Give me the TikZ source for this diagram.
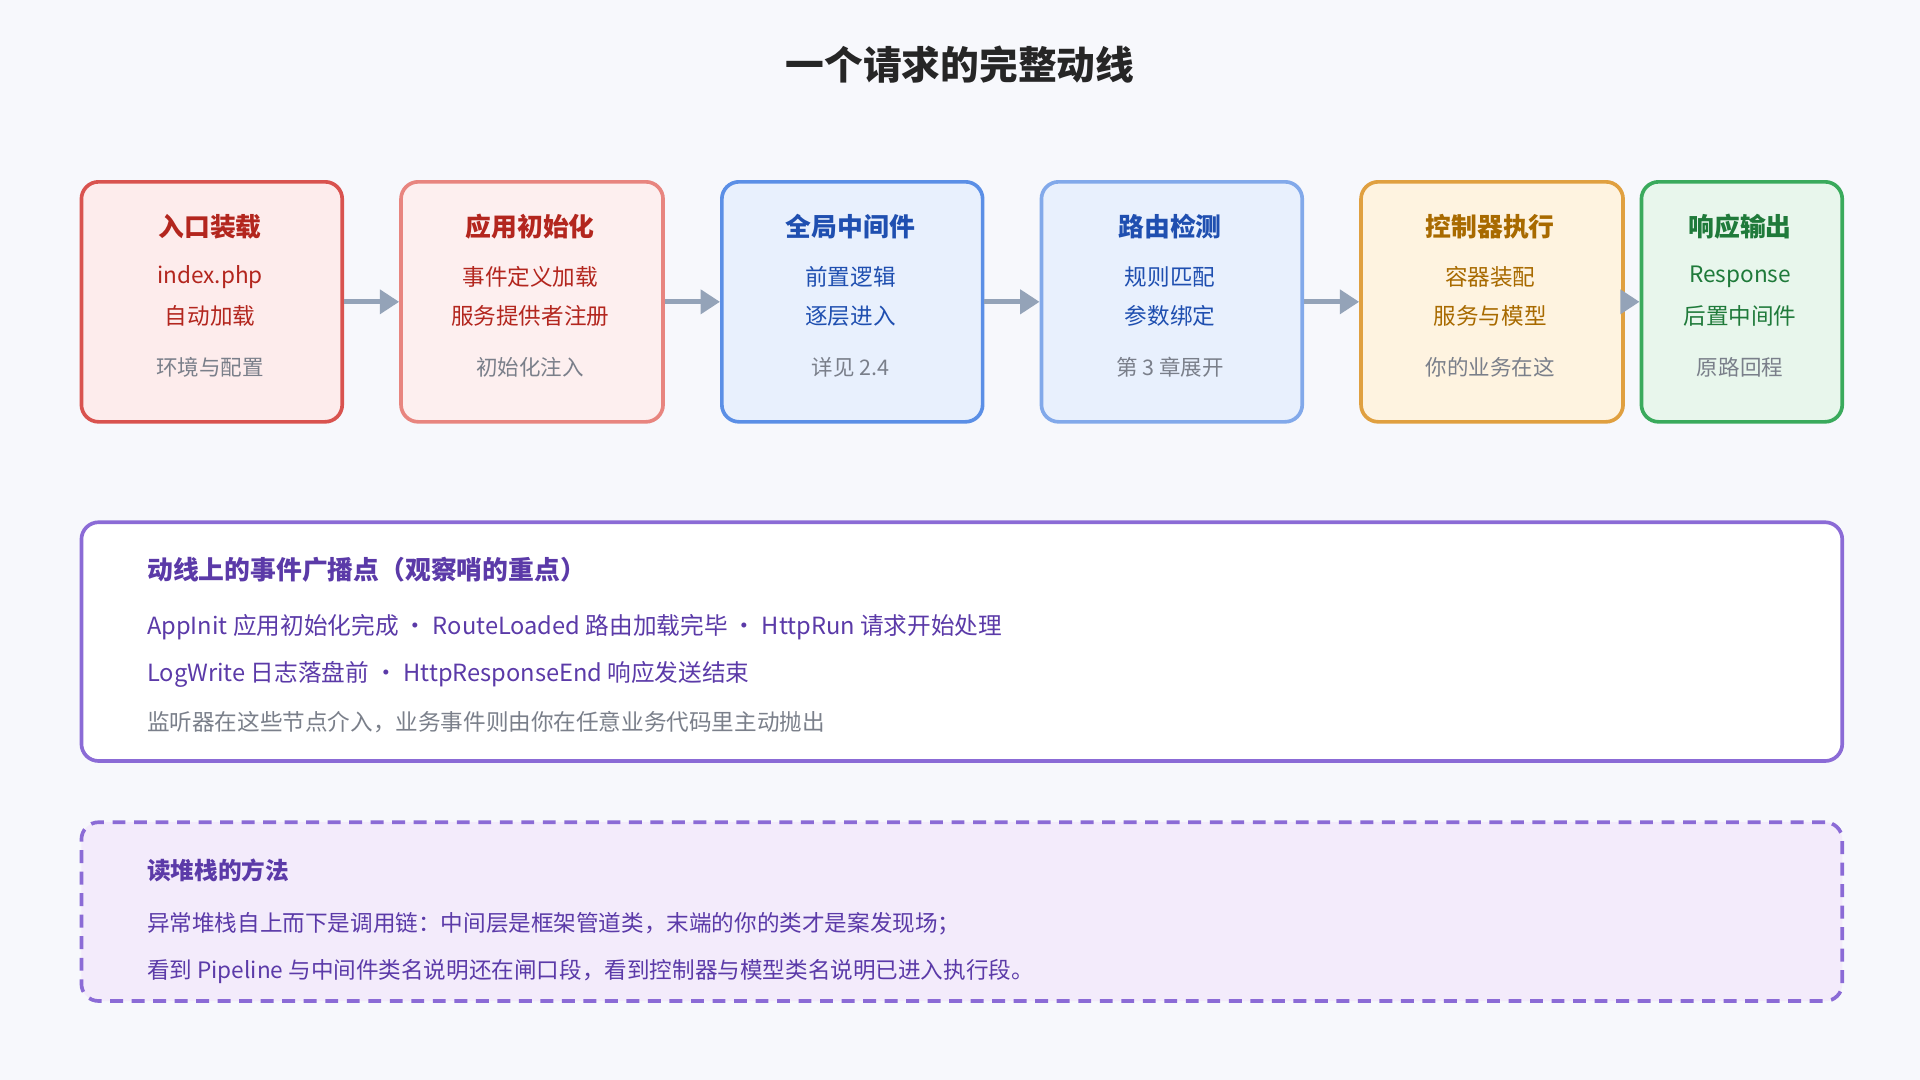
\documentclass[tikz,border=0pt]{standalone}
\usepackage{fontspec}
\setmainfont{Noto Sans CJK SC}
\usetikzlibrary{arrows.meta,positioning}
\definecolor{bgc}{HTML}{F7F8FC}
\definecolor{arrc}{HTML}{94A3B8}
\definecolor{grayt}{HTML}{7A7F8A}
\definecolor{redb}{HTML}{D9534F}\definecolor{redf}{HTML}{FDECEC}\definecolor{redt}{HTML}{B3261E}
\definecolor{pinkb}{HTML}{E8857F}\definecolor{pinkf}{HTML}{FDEFEF}
\definecolor{blueb}{HTML}{5B8FE6}\definecolor{bluef}{HTML}{E8F0FD}\definecolor{bluet}{HTML}{1F4FB0}
\definecolor{lblueb}{HTML}{82A9EA}
\definecolor{orab}{HTML}{E0A040}\definecolor{oraf}{HTML}{FEF3E0}\definecolor{orat}{HTML}{A86A00}
\definecolor{grnb}{HTML}{3AAA5C}\definecolor{grnf}{HTML}{E8F6EC}\definecolor{grnt}{HTML}{1F7A3A}
\definecolor{purb}{HTML}{8B6BD6}\definecolor{purf}{HTML}{F3EBFB}\definecolor{purt}{HTML}{5B3AA8}
\begin{document}
\begin{tikzpicture}[x=0.02cm,y=-0.02cm,
    stage/.style={draw, line width=1.7pt, rounded corners=8pt, anchor=north west, inner sep=0pt},
    ttl/.style={font=\bfseries\fontsize{12}{14}\selectfont},
    txt/.style={font=\fontsize{10.5}{12}\selectfont},
    note/.style={font=\fontsize{10}{12}\selectfont, text=grayt},
    flow/.style={arrc, line width=2.4pt, -{Triangle[length=9pt,width=11pt]}}]
  \fill[bgc] (0,0) rectangle (1568,882);
  \node[font=\bfseries\fontsize{18}{20}\selectfont, text=black!85] (title) at (784,53) {一个请求的完整动线};
  % stages
  \foreach \nm/\x/\w/\bc/\fc/\tc/\a/\b/\c/\d in {
      s1/65/213/redb/redf/redt/入口装载/index.php/自动加载/环境与配置,
      s2/326/214/pinkb/pinkf/redt/应用初始化/事件定义加载/服务提供者注册/初始化注入,
      s3/588/213/blueb/bluef/bluet/全局中间件/前置逻辑/逐层进入/详见 2.4,
      s4/849/213/lblueb/bluef/bluet/路由检测/规则匹配/参数绑定/第 3 章展开,
      s5/1110/214/orab/oraf/orat/控制器执行/容器装配/服务与模型/你的业务在这,
      s6/1339/164/grnb/grnf/grnt/响应输出/Response/后置中间件/原路回程}{
    \node[stage, draw=\bc, fill=\fc, minimum width=\w*0.02cm, minimum height=196*0.02cm] (\nm) at (\x,147) {};
    \node[ttl, text=\tc] (\nm t) at (\x+\w/2,185) {\a};
    \node[txt, text=\tc] (\nm a) at (\x+\w/2,226) {\b};
    \node[txt, text=\tc] (\nm b) at (\x+\w/2,258) {\c};
    \node[note] (\nm c) at (\x+\w/2,300) {\d};
  }
  \foreach \p/\q in {s1/s2,s2/s3,s3/s4,s4/s5,s5/s6}
    \draw[flow] (\p.east) -- (\q.west);
  % events
  \node[stage, draw=purb, fill=white, minimum width=1438*0.02cm, minimum height=195*0.02cm] (ev) at (65,425) {};
  \node[ttl, text=purt, anchor=west] (evt) at (114,465) {动线上的事件广播点（观察哨的重点）};
  \node[txt, text=purt, anchor=west, font=\fontsize{11}{13}\selectfont] (ev1) at (114,512) {AppInit 应用初始化完成 · RouteLoaded 路由加载完毕 · HttpRun 请求开始处理};
  \node[txt, text=purt, anchor=west, font=\fontsize{11}{13}\selectfont] (ev2) at (114,551) {LogWrite 日志落盘前 · HttpResponseEnd 响应发送结束};
  \node[note, anchor=west, font=\fontsize{10.5}{12}\selectfont] (ev3) at (114,590) {监听器在这些节点介入，业务事件则由你在任意业务代码里主动抛出};
  % stack
  \node[stage, draw=purb, fill=purf, dashed, dash pattern=on 6pt off 4pt, minimum width=1438*0.02cm, minimum height=146*0.02cm] (st) at (65,670) {};
  \node[ttl, text=purt, anchor=west, font=\bfseries\fontsize{11}{13}\selectfont] (stt) at (114,711) {读堆栈的方法};
  \node[txt, text=purt, anchor=west] (st1) at (114,754) {异常堆栈自上而下是调用链：中间层是框架管道类，末端的你的类才是案发现场；};
  \node[txt, text=purt, anchor=west] (st2) at (114,793) {看到 Pipeline 与中间件类名说明还在闸口段，看到控制器与模型类名说明已进入执行段。};
\end{tikzpicture}
\end{document}
